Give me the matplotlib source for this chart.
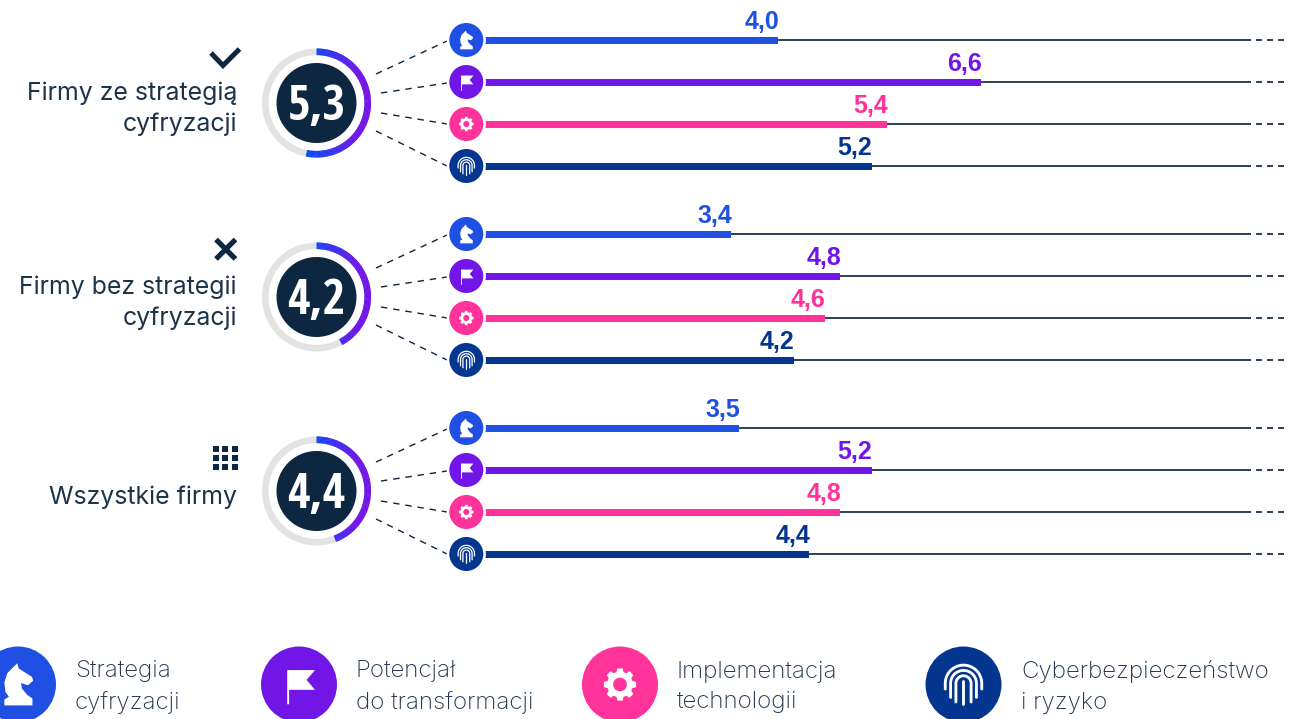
import numpy as np
import matplotlib
matplotlib.use("Agg")
import matplotlib.pyplot as plt
from matplotlib.patches import Circle, Wedge, Polygon, Rectangle
import matplotlib.colors as mc

W, H = 1299, 719
PT = 0.72

groups = ["Firmy ze strategią\ncyfryzacji", "Firmy bez strategii\ncyfryzacji", "Wszystkie firmy"]
overall = [5.3, 4.2, 4.4]
strategia = [4.0, 3.4, 3.5]
potencjal = [6.6, 4.8, 5.2]
implementacja = [5.4, 4.6, 4.8]
cyber = [5.2, 4.2, 4.4]
scale_max = 10
legend_labels = ["Strategia\ncyfryzacji", "Potencjał\ndo transformacji",
                 "Implementacja\ntechnologii", "Cyberbezpieczeństwo\ni ryzyko"]

NAVY = "#0e2740"
TXT = "#1d3349"
LEG = "#23384f"
GRAY = "#e3e3e3"
COLS = ["#1f50e3", "#7216e8", "#ff3399", "#04358f"]
series = [strategia, potencjal, implementacja, cyber]

group_cy = [103, 297, 491]
row_off = [-63, -21, 21, 63]
X0, PXU = 466, 78.0

fig = plt.figure(figsize=(W / 100, H / 100), dpi=100, facecolor="white")
ax = fig.add_axes([0, 0, 1, 1])
ax.set_xlim(-X0 / PXU, (W - X0) / PXU)
ax.set_ylim(H, 0)
ax.axis("off")
px = fig.add_axes([0, 0, 1, 1])
px.set_xlim(0, W)
px.set_ylim(H, 0)
px.axis("off")
px.patch.set_alpha(0)

SANS = ["Inter", "Roboto", "DejaVu Sans"]
BOLD = ["Liberation Sans", "DejaVu Sans"]
NARROW = ["Open Sans Condensed", "Roboto Condensed", "DejaVu Sans"]


def icon(cx, cy, r, kind, col):
    px.add_patch(Circle((cx, cy), r + 2.6, fc="white", ec="none", zorder=5))
    px.add_patch(Circle((cx, cy), r, fc=col, ec="none", zorder=6))

    def P(pts):
        return [(cx + a * r, cy - b * r) for a, b in pts]

    if kind == 0:
        knight = [(-.36, -.55), (.38, -.55), (.38, -.37), (.24, -.27), (.1, -.1), (.08, .04),
                  (.26, -.02), (.4, .1), (.37, .2), (.18, .32), (.02, .42), (-.02, .56),
                  (-.12, .46), (-.28, .3), (-.36, .05), (-.33, -.2), (-.24, -.32), (-.36, -.4)]
        px.add_patch(Polygon(P(knight), fc="white", ec="none", zorder=7))
    elif kind == 1:
        flag = [(-.31, .38), (.42, .38), (.2, .12), (.42, -.14), (-.26, -.14), (-.26, -.52), (-.31, -.52)]
        px.add_patch(Polygon(P(flag), fc="white", ec="none", zorder=7))
    elif kind == 2:
        n = 8
        pts = []
        for i in range(n):
            a = 2 * np.pi * i / n
            for d, rr in [(-.27, .34), (-.17, .43), (.17, .43), (.27, .34)]:
                pts.append((rr * np.cos(a + d), rr * np.sin(a + d)))
        px.add_patch(Polygon(P(pts), fc="white", ec="none", zorder=7))
        px.add_patch(Circle((cx, cy), .18 * r, fc=col, ec="none", zorder=8))
    else:
        lw = 0.075 * r * PT
        for rad, leg in [(.48, -.12), (.34, -.34), (.2, -.46)]:
            t = np.linspace(0, np.pi, 30)
            xs = np.r_[rad, rad * np.cos(t), -rad]
            ys = np.r_[leg, .03 + rad * np.sin(t), leg]
            a, b = zip(*P(list(zip(xs, ys))))
            px.plot(a, b, color="white", lw=lw, solid_capstyle="round", zorder=7)
        a, b = zip(*P([(0, .08), (0, -.52)]))
        px.plot(a, b, color="white", lw=lw, solid_capstyle="round", zorder=7)


def gradient(frac):
    c0, c1 = np.array(mc.to_rgb("#1446f5")), np.array(mc.to_rgb("#7216e8"))
    t = np.clip(np.sin(frac) * 1.25, 0, 1)
    return mc.to_hex(c0 + (c1 - c0) * t)


for g, cy in enumerate(group_cy):
    cx = 316.5
    px.add_patch(Circle((cx, cy), 51.2, fc="none", ec=GRAY, lw=6.6 * PT, zorder=2))
    sweep = overall[g] / scale_max * 360
    steps = np.linspace(0, sweep, int(sweep) + 2)
    for a0, a1 in zip(steps[:-1], steps[1:]):
        # y axis is inverted: positive angles run clockwise from +x
        px.add_patch(Wedge((cx, cy), 54.5, a0 - 90, a1 - 90 + .6, width=6.6,
                           fc=gradient(np.radians(a0)), ec="none", zorder=3))
    px.add_patch(Circle((cx, cy), 40, fc=NAVY, ec="none", zorder=4))
    px.text(cx, cy + 16.5, f"{overall[g]:.1f}".replace(".", ","), color="white", family=NARROW,
            weight="bold", fontsize=35, ha="center", va="baseline", zorder=5)

    for k, (s, off) in enumerate(zip(series, row_off)):
        y = cy + off
        v = s[g]
        ax.plot([0, 10.06], [y, y], color=NAVY, lw=1.7 * PT, solid_capstyle="butt", zorder=1)
        ax.plot([10.13, 10.49], [y, y], color=NAVY, lw=1.7 * PT, ls=(0, (3.5, 3.0)),
                dash_capstyle="butt", zorder=1)
        ax.barh(y, v, height=7, color=COLS[k], zorder=2)
        ax.text(v + 0.012, y - 11, f"{v:.1f}".replace(".", ","), color=COLS[k], family=BOLD,
                weight="bold", fontsize=18, ha="right", va="baseline", zorder=3)
        icon(466.3, y, 17, k, COLS[k])

    for (x1, dy1), off in zip([(376, -29), (381, -10), (381, 10), (376, 28)], row_off):
        px.plot([x1, 447], [cy + dy1, cy + off + (1 if off < 0 else 0)], color=NAVY,
                lw=1.4 * PT, ls=(0, (4.6, 4.2)), zorder=2)

# group titles
px.text(237, 108.5, groups[0], family=SANS, fontsize=17.9, color=TXT, ha="right", va="center", linespacing=1.4)
px.text(237, 302.5, groups[1], family=SANS, fontsize=17.9, color=TXT, ha="right", va="center", linespacing=1.4)
px.text(237, 497, groups[2], family=SANS, fontsize=17.9, color=TXT, ha="right", va="center")

# group marks
px.plot([211, 223, 239.5], [53, 65.5, 49], color=NAVY, lw=5 * PT, solid_joinstyle="miter", solid_capstyle="butt")
px.plot([216, 235.5], [239.5, 259], color=NAVY, lw=5.2 * PT, solid_capstyle="butt")
px.plot([216, 235.5], [259, 239.5], color=NAVY, lw=5.2 * PT, solid_capstyle="butt")
for i in range(3):
    for j in range(3):
        px.add_patch(Rectangle((213 + 9.4 * i, 446 + 9.1 * j), 6, 6, fc=NAVY, ec="none"))

# legend
for k, (lab, cx, tx) in enumerate(zip(legend_labels, [18, 299, 620, 963.5], [75, 356, 677, 1021])):
    icon(cx, 684.5, 38, k, COLS[k])
    px.text(tx, 687, lab, family=SANS, fontsize=17.4, color=LEG, ha="left", va="center",
            weight="light", linespacing=1.5)

fig.savefig("out.png", dpi=100, facecolor="white")
